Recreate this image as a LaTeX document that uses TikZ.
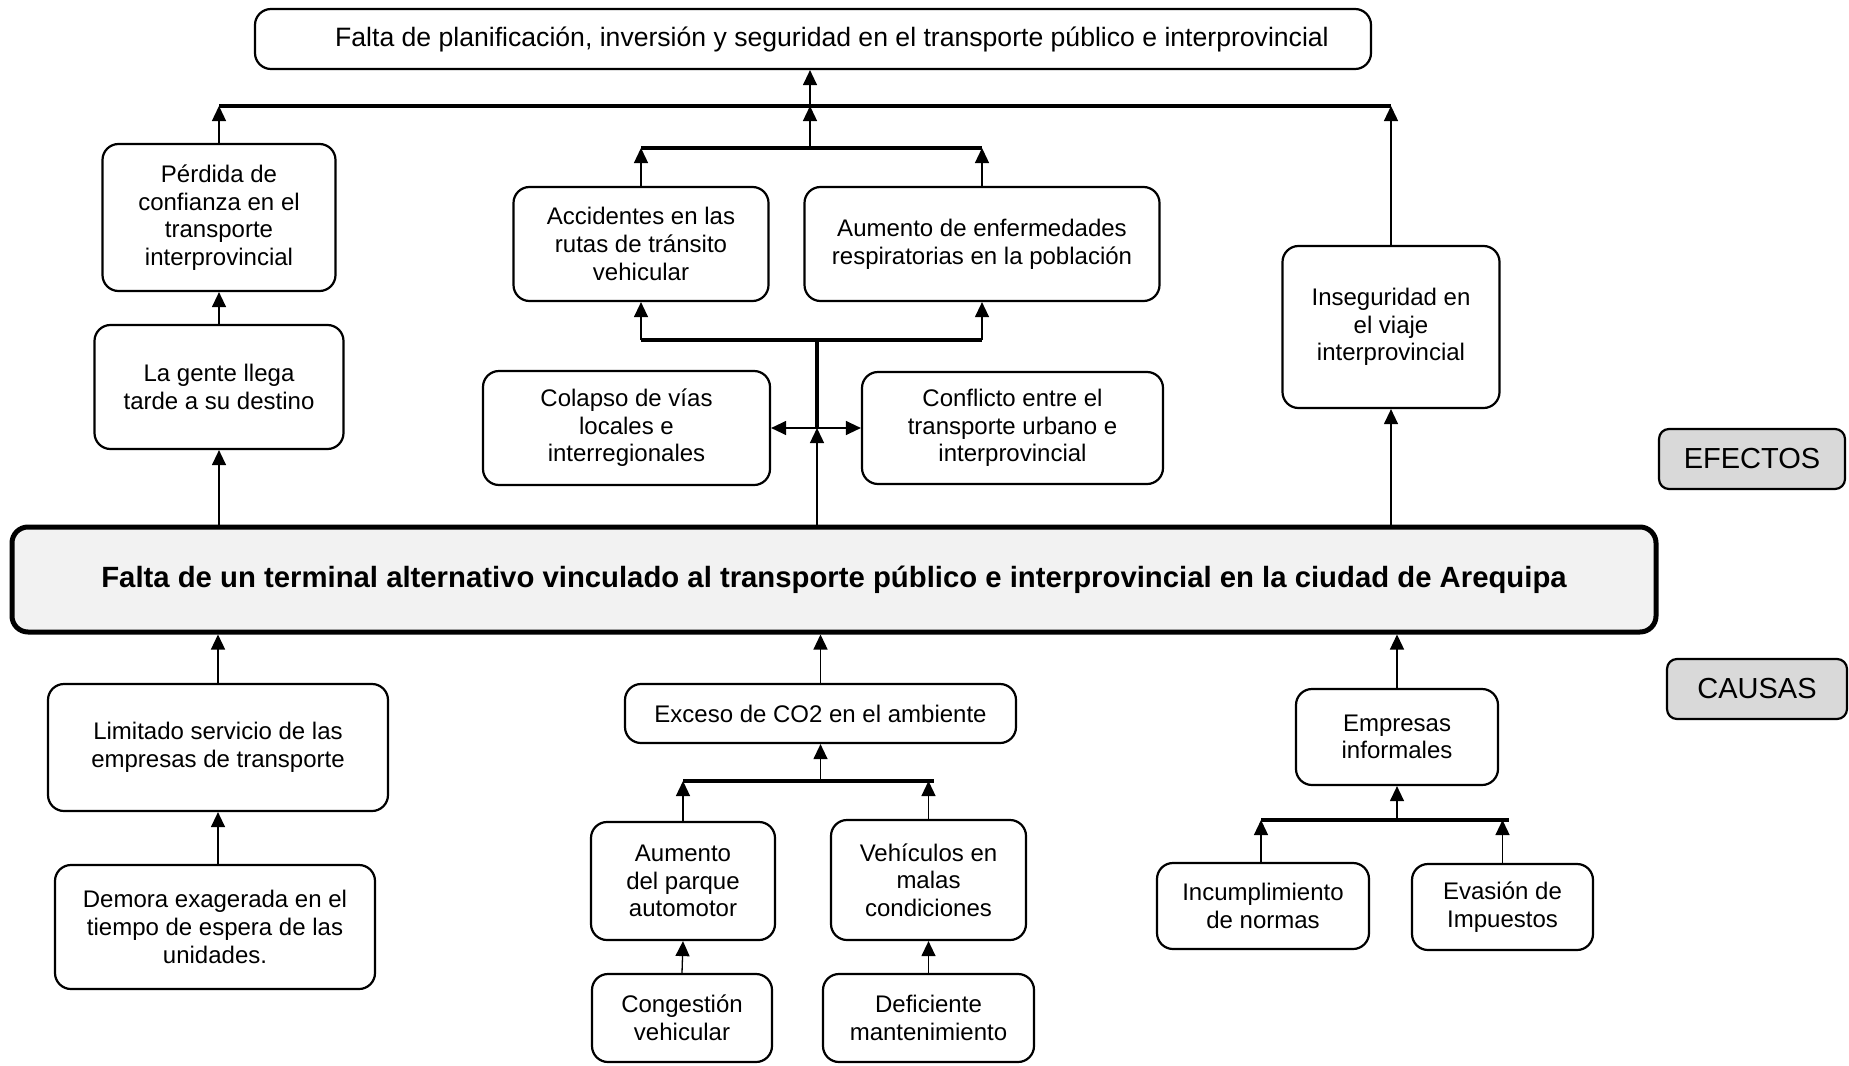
\documentclass[tikz,border=0pt]{standalone}
\usepackage{fontspec}
\setmainfont{Liberation Sans}
\usetikzlibrary{calc,arrows.meta}
\definecolor{ink}{HTML}{000000}
\definecolor{corefill}{HTML}{F2F2F2}
\definecolor{tagfill}{HTML}{D9D9D9}
\tikzset{
  box/.style={draw=ink, line width=2.2pt, rounded corners=16pt, align=center, inner sep=2pt, font=\fontsize{24}{27.6}\selectfont},
  corebox/.style={box, fill=corefill, line width=5pt, font=\bfseries\fontsize{29.3}{33}\selectfont},
  tagbox/.style={box, fill=tagfill, rounded corners=10pt, font=\fontsize{29}{33}\selectfont},
  bar/.style={draw=ink, line width=4pt},
  arr/.style={draw=ink, line width=1.3pt, -{Triangle[length=15pt,width=14pt]}},
  dbl/.style={draw=ink, line width=1.3pt, {Triangle[length=15pt,width=14pt]}-{Triangle[length=15pt,width=14pt]}},
}
\begin{document}
\begin{tikzpicture}[x=1pt,y=-1pt]
  \useasboundingbox (0,0) rectangle (1849,1065);

  % central problem
  \node[corebox, minimum width=1644pt, minimum height=105pt] (core) at (834,579.5)
    {Falta de un terminal alternativo vinculado al transporte público e interprovincial en la ciudad de Arequipa};

  % effects
  \node[box, minimum width=1116pt, minimum height=60pt, font=\fontsize{26.6}{30}\selectfont] (top) at (813,39)
    {\hspace*{38pt}Falta de planificación, inversión y seguridad en el transporte público e interprovincial};
  \node[box, minimum width=233pt, minimum height=147pt] (perdida) at (219,217.5)
    {Pérdida de\\confianza en el\\transporte\\interprovincial};
  \node[box, minimum width=249pt, minimum height=124pt] (gente) at (219,387)
    {La gente llega\\tarde a su destino};
  \node[box, minimum width=255pt, minimum height=114pt] (acc) at (641,244)
    {Accidentes en las\\rutas de tránsito\\vehicular};
  \node[box, minimum width=355pt, minimum height=114pt] (enf) at (982,244)
    {Aumento de enfermedades\\respiratorias en la población};
  \node[box, minimum width=287pt, minimum height=114pt] (colapso) at (626.5,428)
    {Colapso de vías\\locales e\\interregionales};
  \node[box, minimum width=301pt, minimum height=112pt] (conflicto) at (1012.5,428)
    {Conflicto entre el\\transporte urbano e\\interprovincial};
  \node[box, minimum width=217pt, minimum height=162pt] (inseg) at (1391,327)
    {Inseguridad en\\el viaje\\interprovincial};
  \node[tagbox, minimum width=186pt, minimum height=60pt] (efectos) at (1752,459) {EFECTOS};

  % causes
  \node[tagbox, minimum width=180pt, minimum height=60pt] (causas) at (1757,689) {CAUSAS};
  \node[box, minimum width=340pt, minimum height=127pt] (limitado) at (218,747.5)
    {Limitado servicio de las\\empresas de transporte};
  \node[box, minimum width=320pt, minimum height=124pt] (demora) at (215,927)
    {Demora exagerada en el\\tiempo de espera de las\\unidades.};
  \node[box, minimum width=391pt, minimum height=59pt] (exceso) at (820.5,713.5)
    {Exceso de CO2 en el ambiente};
  \node[box, minimum width=184pt, minimum height=118pt] (parque) at (683,881)
    {Aumento\\del parque\\automotor};
  \node[box, minimum width=195pt, minimum height=120pt] (vehic) at (928.5,880)
    {Vehículos en\\malas\\condiciones};
  \node[box, minimum width=180pt, minimum height=88pt] (congestion) at (682,1018)
    {Congestión\\vehicular};
  \node[box, minimum width=211pt, minimum height=88pt] (deficiente) at (928.5,1018)
    {Deficiente\\mantenimiento};
  \node[box, minimum width=202pt, minimum height=96pt] (empresas) at (1397,737)
    {Empresas\\informales};
  \node[box, minimum width=212pt, minimum height=86pt] (incumpl) at (1263,906)
    {Incumplimiento\\de normas};
  \node[box, minimum width=181pt, minimum height=86pt] (evasion) at (1502.5,907)
    {Evasión de\\Impuestos};

  % bar ends
  \coordinate (tL) at (219,106);  \coordinate (tR) at (1391,106); \coordinate (tM) at (810,106);
  \coordinate (mL) at (641,148);  \coordinate (mR) at (982,148);  \coordinate (mM) at (810,148);
  \coordinate (lL) at (641,340);  \coordinate (lR) at (982,340);
  \coordinate (hub) at (817,428);
  \coordinate (cL) at (683,781);  \coordinate (cR) at (934,781);
  \coordinate (eL) at (1261,820); \coordinate (eR) at (1509,820);

  \draw[bar] (tL) -- (tR);
  \draw[bar] (mL) -- (mR);
  \draw[bar] (lL) -- (lR);
  \draw[bar] (lL -| hub) -- (hub);
  \draw[bar] (cL) -- (cR);
  \draw[bar] (eL) -- (eR);

  % effect arrows
  \draw[arr] (tM) -- (tM |- top.south);
  \draw[arr] (mM) -- (tM);
  \draw[arr] (perdida.north) -- (tL);
  \draw[arr] (inseg.north) -- (tR);
  \draw[arr] (acc.north) -- (mL);
  \draw[arr] (enf.north) -- (mR);
  \draw[arr] (lL) -- (acc.south);
  \draw[arr] (lR) -- (enf.south);
  \draw[dbl] (colapso.east) -- (conflicto.west);
  \draw[arr] (core.north -| hub) -- (hub);
  \draw[arr] (gente.north) -- (perdida.south);
  \draw[arr] (core.north -| gente) -- (gente.south);
  \draw[arr] (core.north -| inseg) -- (inseg.south);

  % cause arrows
  \draw[arr] (limitado.north) -- (limitado.north |- core.south);
  \draw[arr] (demora.north -| limitado) -- (limitado.south);
  \draw[arr] (exceso.north) -- (exceso.north |- core.south);
  \draw[arr] (exceso.south |- cL) -- (exceso.south);
  \draw[arr] (parque.north) -- (cL);
  \draw[arr] (vehic.north) -- (vehic.north |- cL);
  \draw[arr] (congestion.north) -- (parque.south);
  \draw[arr] (deficiente.north) -- (vehic.south);
  \draw[arr] (empresas.north) -- (empresas.north |- core.south);
  \draw[arr] (empresas.south |- eL) -- (empresas.south);
  \draw[arr] (incumpl.north -| eL) -- (eL);
  \draw[arr] (evasion.north) -- (evasion.north |- eL);
\end{tikzpicture}
\end{document}
